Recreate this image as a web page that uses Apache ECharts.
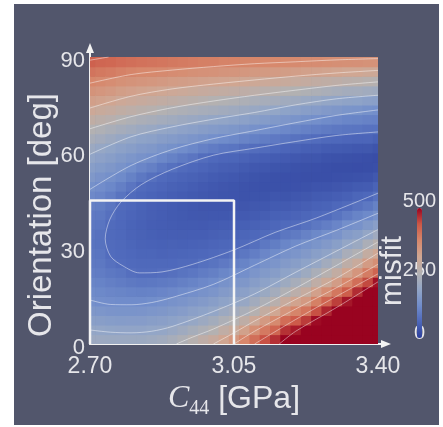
<!DOCTYPE html>
<html><head><meta charset="utf-8">
<script src="https://cdn.jsdelivr.net/npm/echarts@6/dist/echarts.min.js"></script>
<style>
html,body{margin:0;padding:0;background:#ffffff;width:443px;height:427px;overflow:hidden}
#panel{position:absolute;left:14px;top:4px;width:425px;height:421px;background:#52566c}
#chart{width:425px;height:421px}
</style></head>
<body><div id="panel"><div id="chart"></div></div>
<script>
// ---- data ----
const c44Samples = [2.700, 2.725, 2.750, 2.775, 2.800, 2.825, 2.850, 2.875, 2.900, 2.925, 2.950, 2.975, 3.000, 3.025, 3.050,
                    3.075, 3.100, 3.125, 3.150, 3.175, 3.200, 3.225, 3.250, 3.275, 3.300, 3.325, 3.350, 3.375, 3.400];
const orientationSamples = [1.5, 4.5, 7.5, 10.5, 13.5, 16.5, 19.5, 22.5, 25.5, 28.5, 31.5, 34.5, 37.5, 40.5, 43.5,
                            46.5, 49.5, 52.5, 55.5, 58.5, 61.5, 64.5, 67.5, 70.5, 73.5, 76.5, 79.5, 82.5, 85.5, 88.5];
// one list per C44 sample, misfit from orientation 1.5 up to 88.5
const misfitByC44 = [
  [206,189,170,151,132,121,111,100,91,87, 83,84,87,92,103,119,135,152,168,185, 205,228,250,278,305,329,352,376,401,426],
  [205,187,167,147,128,118,108,97,89,84, 79,78,84,89,99,112,126,141,159,176, 194,218,242,268,296,322,346,370,395,419],
  [204,184,164,143,126,114,102,90,78,69, 67,66,68,76,86,100,116,133,150,167, 184,207,233,260,288,316,340,364,391,417],
  [203,183,162,142,124,111,97,84,70,66, 64,62,62,64,68,83,102,121,139,157, 175,195,222,250,278,305,331,357,384,411],
  [204,183,163,142,124,108,91,75,66,62, 59,57,56,58,62,68,85,106,127,147, 167,187,214,242,271,299,326,352,379,407],
  [204,183,163,143,124,106,88,70,64,59, 55,53,52,53,56,61,68,90,114,137, 158,179,205,235,264,293,321,348,375,404],
  [209,187,167,147,127,108,89,70,64,59, 54,50,48,49,51,56,62,76,103,130, 152,174,199,228,258,287,316,344,373,401],
  [215,190,171,151,132,112,93,73,64,57, 52,48,46,46,48,52,58,66,88,116, 142,166,190,220,250,280,310,340,370,398],
  [227,199,177,157,137,117,97,76,65,58, 53,48,45,43,44,48,53,61,77,106, 134,160,185,214,244,274,305,335,366,395],
  [240,210,183,163,143,123,103,83,67,59, 52,47,43,41,41,44,50,57,67,95, 125,152,178,207,238,269,301,332,363,392],
  [257,225,193,172,151,131,109,88,68,61, 54,48,43,39,39,41,46,53,63,85, 116,145,172,201,232,264,296,328,359,389],
  [273,239,206,179,158,137,117,97,77,63, 55,48,42,38,36,38,42,49,58,71, 105,137,166,195,226,258,291,324,356,386],
  [291,253,219,188,167,146,124,103,82,66, 58,51,45,39,35,36,39,45,53,65, 96,131,160,190,222,253,287,321,354,385],
  [316,277,239,206,179,158,137,115,92,70, 61,53,46,39,35,34,36,41,49,60, 88,124,155,185,216,248,283,318,350,382],
  [344,296,253,218,187,166,145,124,101,78, 63,55,48,41,36,33,34,39,47,59, 84,118,149,180,211,244,279,315,348,381],
  [377,325,274,232,196,172,151,130,109,88, 68,59,50,42,36,31,31,35,43,55, 76,110,143,174,206,238,273,310,345,378],
  [407,361,305,255,216,185,165,145,124,100, 76,62,53,45,38,32,30,32,39,50, 71,104,136,168,200,233,269,306,341,376],
  [443,394,340,284,238,202,177,157,137,114, 90,68,57,47,39,32,28,30,37,48, 67,98,130,162,193,227,263,301,339,375],
  [467,420,370,312,260,221,187,166,145,123, 99,74,61,52,43,35,28,28,34,44, 62,92,124,154,187,222,259,298,336,373],
  [514,466,410,350,293,244,208,179,158,137, 113,87,66,54,43,34,28,27,32,42, 58,86,117,148,179,215,253,294,333,371],
  [538,482,433,379,320,267,226,190,168,146, 123,95,69,57,46,37,29,27,30,39, 55,80,111,142,174,210,249,290,330,370],
  [571,514,458,400,340,288,244,208,179,156, 134,107,79,61,49,38,30,26,28,36, 50,75,105,135,168,203,243,286,327,367],
  [611,552,494,443,386,326,275,232,194,170, 144,118,89,66,54,43,33,25,27,35, 49,70,100,130,163,197,239,281,324,366],
  [650,590,531,474,420,360,302,257,217,181, 156,130,100,70,56,44,33,26,25,31, 44,64,94,123,156,190,232,276,320,363],
  [690,630,570,510,456,397,334,283,239,199, 169,141,112,83,62,48,36,27,24,30, 43,63,90,119,151,185,227,272,317,361],
  [729,668,607,546,486,430,374,319,272,230, 190,160,130,97,67,52,39,28,24,28, 41,60,86,113,144,180,221,266,313,359],
  [770,710,650,590,530,470,409,348,295,247, 204,169,138,109,80,59,43,30,23,27, 39,58,84,111,142,179,220,264,312,358],
  [809,748,686,625,563,502,448,390,336,284, 235,190,154,120,90,63,45,31,24,26, 38,58,80,107,134,173,214,258,307,355],
  [850,790,730,670,610,550,490,420,361,310, 259,212,171,136,106,78,55,38,25,23, 33,52,79,105,131,171,211,255,305,354]
];
const c44Ticks = [2.70, 3.05, 3.40];
const orientationTicks = [0, 30, 60, 90];
const colorbarTicks = [0, 250, 500];
const boxC44 = [2.70, 2.70, 3.05, 3.05];
const boxOrientation = [0, 45, 45, 0];
// contour lines, [C44, orientation]
const contour430 = [[2.70,89],[2.745,90]];
const contour370Upper = [[2.70,81.8],[2.80,84.5],[2.90,85.9],[3.00,87],[3.10,87.9],[3.20,88.5],[3.30,89.1],[3.40,89.5]];
const contour310Upper = [[2.70,74],[2.80,77.7],[2.90,80],[3.00,81.5],[3.10,82.8],[3.20,84],[3.30,85],[3.40,85.8]];
const contour250Upper = [[2.70,67.5],[2.80,71.3],[2.90,74.1],[3.00,76.2],[3.10,78],[3.20,79.6],[3.30,81.1],[3.40,82.2]];
const contour190Upper = [[2.70,59.5],[2.80,65],[2.90,68.1],[3.00,70.5],[3.10,72.6],[3.20,75],[3.30,76.9],[3.40,78]];
const contour130Upper = [[2.70,48.5],[2.80,56],[2.90,61],[3.00,64.4],[3.10,66.9],[3.20,69.4],[3.30,71.7],[3.40,73.4]];
const contour70 = [[3.40,66.5],[3.30,65.4],[3.20,63.5],[3.10,61.4],[3.00,59.2],[2.90,54.8],[2.825,50],[2.775,44.5],[2.748,39],[2.737,33],[2.75,27.5],[2.78,24.5],[2.82,22.3],[2.875,22.6],[2.95,25],[3.05,29.5],[3.15,35],[3.25,39.5],[3.40,47.3]];
const contour130Lower = [[2.70,13.8],[2.75,12.4],[2.80,12.3],[2.85,13],[2.90,14.6],[3.00,18.7],[3.10,24.7],[3.20,30.7],[3.30,35.7],[3.40,41]];
const contour190Lower = [[2.70,4.4],[2.75,3.7],[2.80,3.5],[2.85,4],[2.90,5.5],[3.00,10.2],[3.10,15.7],[3.20,22.5],[3.30,29.2],[3.40,35.9]];
const contour250Lower = [[2.91,0],[2.95,2.2],[3.00,4.7],[3.10,10.7],[3.20,17.5],[3.30,24.7],[3.40,32]];
const contour310Lower = [[3.00,0],[3.05,3.5],[3.10,7.2],[3.20,14],[3.30,20.7],[3.40,28.5]];
const contour370Lower = [[3.05,0],[3.10,4],[3.20,11],[3.30,17.7],[3.40,25]];
const contour430Lower = [[3.10,0],[3.20,7.7],[3.30,15],[3.40,22]];
const contour490Lower = [[3.16,0],[3.20,4],[3.30,11.5],[3.40,19.5]];

// ---- styling ----
const textColor = '#e6e6ea';
const sans = '"Liberation Sans", Arial, sans-serif';
const serif = '"Liberation Serif", "DejaVu Serif", serif';
const ramp = ['#2c3e9b','#4e68bb','#718dcb','#93a6c7','#b3b1b2','#d0a793','#d7886c','#cc5847','#990320'];
const arrowPath = 'path://M4,0L8,10L5,10L5,20L3,20L3,10L0,10Z';
const halfCellC44 = 0.0125, halfCellOri = 1.5;

const cellData = [];
c44Samples.forEach((c, i) => orientationSamples.forEach((o, j) => cellData.push([c, o, misfitByC44[i][j]])));

const contours = [contour430, contour370Upper, contour310Upper, contour250Upper, contour190Upper, contour130Upper,
  contour70, contour130Lower, contour190Lower, contour250Lower, contour310Lower, contour370Lower, contour430Lower, contour490Lower];

const barTop = 204, barH = 130, barLeft = 403, barW = 5;
const cbY = v => barTop + barH * (1 - v / 500);
const cbOffset = {0: -5, 250: -3, 500: -7};

const chart = echarts.init(document.getElementById('chart'), null, {renderer: 'canvas'});
const option = {
  animation: false,
  textStyle: {fontFamily: sans},
  grid: {left: 76, top: 53, width: 288, height: 287},
  xAxis: {type: 'value', min: 2.7, max: 3.4, position: 'bottom',
    axisLine: {show: true, onZero: false, lineStyle: {color: '#f2f2f2', width: 2},
      symbol: ['none', arrowPath], symbolSize: [8, 20], symbolOffset: [0, 3]},
    axisTick: {show: false}, splitLine: {show: false},
    axisLabel: {customValues: c44Ticks, formatter: v => Number(v).toFixed(2), color: textColor, fontSize: 23, margin: 11, fontFamily: sans},
    name: '{c|C}{s|44}{t| [GPa]}', nameLocation: 'middle', nameGap: 30,
    nameTextStyle: {color: textColor, rich: {
      c: {fontFamily: serif, fontStyle: 'italic', fontSize: 32, lineHeight: 40, color: textColor},
      s: {fontFamily: serif, fontSize: 20, lineHeight: 20, verticalAlign: 'bottom', color: textColor},
      t: {fontFamily: sans, fontSize: 32, lineHeight: 40, color: textColor}
    }}
  },
  yAxis: {type: 'value', min: 0, max: 90, interval: 30, position: 'left',
    axisLine: {show: true, onZero: false, lineStyle: {color: '#f2f2f2', width: 2},
      symbol: ['none', arrowPath], symbolSize: [8, 20], symbolOffset: [0, 4]},
    axisTick: {show: false}, splitLine: {show: false},
    axisLabel: {customValues: orientationTicks, color: textColor, fontSize: 22, margin: 5, fontFamily: sans,
      verticalAlign: 'top', lineHeight: 7}
  },
  visualMap: {
    type: 'continuous', min: 0, max: 500, dimension: 2, seriesIndex: 0,
    inRange: {color: ramp}, calculable: false, orient: 'vertical',
    left: barLeft, top: barTop, itemWidth: barW, itemHeight: barH, padding: 0, hoverLink: false
  },
  graphic: colorbarTicks.map(v => ({
    type: 'text', x: barLeft + barW / 2, y: cbY(v) + cbOffset[v], silent: true,
    style: {text: String(v), fill: textColor, font: '20px ' + sans, align: 'center', verticalAlign: 'middle'}
  })).concat([{
    type: 'text', x: 379, y: 267, rotation: Math.PI / 2, silent: true,
    style: {text: 'misfit', fill: textColor, font: '30px ' + sans, align: 'center', verticalAlign: 'middle'}
  }, {
    type: 'text', x: 28, y: 211, rotation: Math.PI / 2, silent: true,
    style: {text: 'Orientation [deg]', fill: textColor, font: '33px ' + sans, align: 'center', verticalAlign: 'middle'}
  }]),
  series: [{
    type: 'custom', data: cellData, clip: true, silent: true,
    encode: {x: 0, y: 1},
    renderItem: (params, api) => {
      const c = api.value(0), o = api.value(1);
      const a = api.coord([c - halfCellC44, o + halfCellOri]);
      const b = api.coord([c + halfCellC44, o - halfCellOri]);
      return {type: 'rect', shape: {x: a[0], y: a[1], width: b[0] - a[0] + 0.7, height: b[1] - a[1] + 0.7},
        style: {fill: api.visual('color')}};
    }
  }].concat(contours.map(d => ({
    type: 'line', data: d, smooth: 0.3, symbol: 'none', silent: true,
    lineStyle: {color: 'rgba(255,255,255,0.45)', width: 1}, z: 3
  }))).concat([{
    type: 'line', silent: true, symbol: 'none', z: 5,
    data: boxC44.map((x, i) => [x, boxOrientation[i]]),
    lineStyle: {color: '#f4f4f4', width: 2.5}
  }])
};
chart.setOption(option);
</script></body></html>
